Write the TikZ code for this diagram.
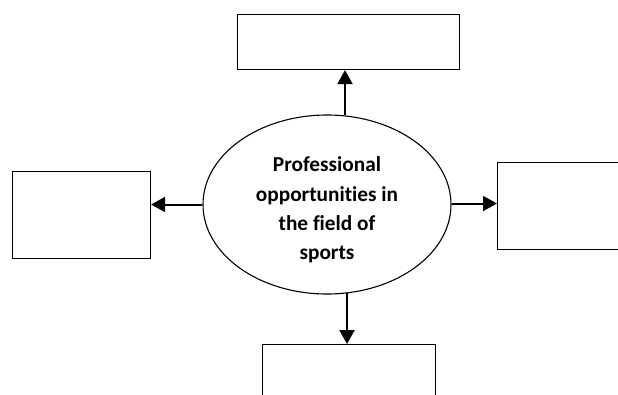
\documentclass[tikz,border=0pt]{standalone}
\usepackage{fontspec}
\setmainfont{Carlito}[Ligatures=NoCommon]
\usetikzlibrary{shapes.geometric,arrows.meta}
\tikzset{
  box/.style={draw=black, line width=1.1bp, rectangle, inner sep=0pt, anchor=north west},
  arr/.style={line width=2bp, -{Triangle[length=14bp,width=15bp]}},
}
\begin{document}
\begin{tikzpicture}[x=1bp,y=-1bp]
\useasboundingbox (0,0) rectangle (618,394);
\clip (0,0) rectangle (618,394);
\fill[white] (0,0) rectangle (618,394);
\node[draw=black, line width=1.1bp, ellipse, minimum width=248bp, minimum height=179bp, inner sep=0pt] (e) at (327,204.5) {};
\node[align=center, inner sep=0pt, font=\bfseries\fontsize{21.3bp}{29.4bp}\selectfont] (t) at (327,210)
  {Professional\\opportunities in\\the field of\\sports};
\node[box, minimum width=222bp, minimum height=55bp] (tb) at (237,14) {};
\node[box, minimum width=138bp, minimum height=87bp] (lb) at (12,171) {};
\node[box, minimum width=140bp, minimum height=87bp] (rb) at (497,162) {};
\node[box, minimum width=173bp, minimum height=70bp] (bb) at (262,344) {};
\path (e.north) ++ (18,1) coordinate (et);
\path (e.south) ++ (20,-1.3) coordinate (eb);
\draw[arr] (et) -- (et |- tb.south);
\draw[arr] (eb) -- (eb |- bb.north);
\draw[arr] (e.west) -- (e.west -| lb.east);
\draw[arr] ([yshift=1bp]e.east) -- ([yshift=1bp]e.east -| rb.west);
\end{tikzpicture}
\end{document}
